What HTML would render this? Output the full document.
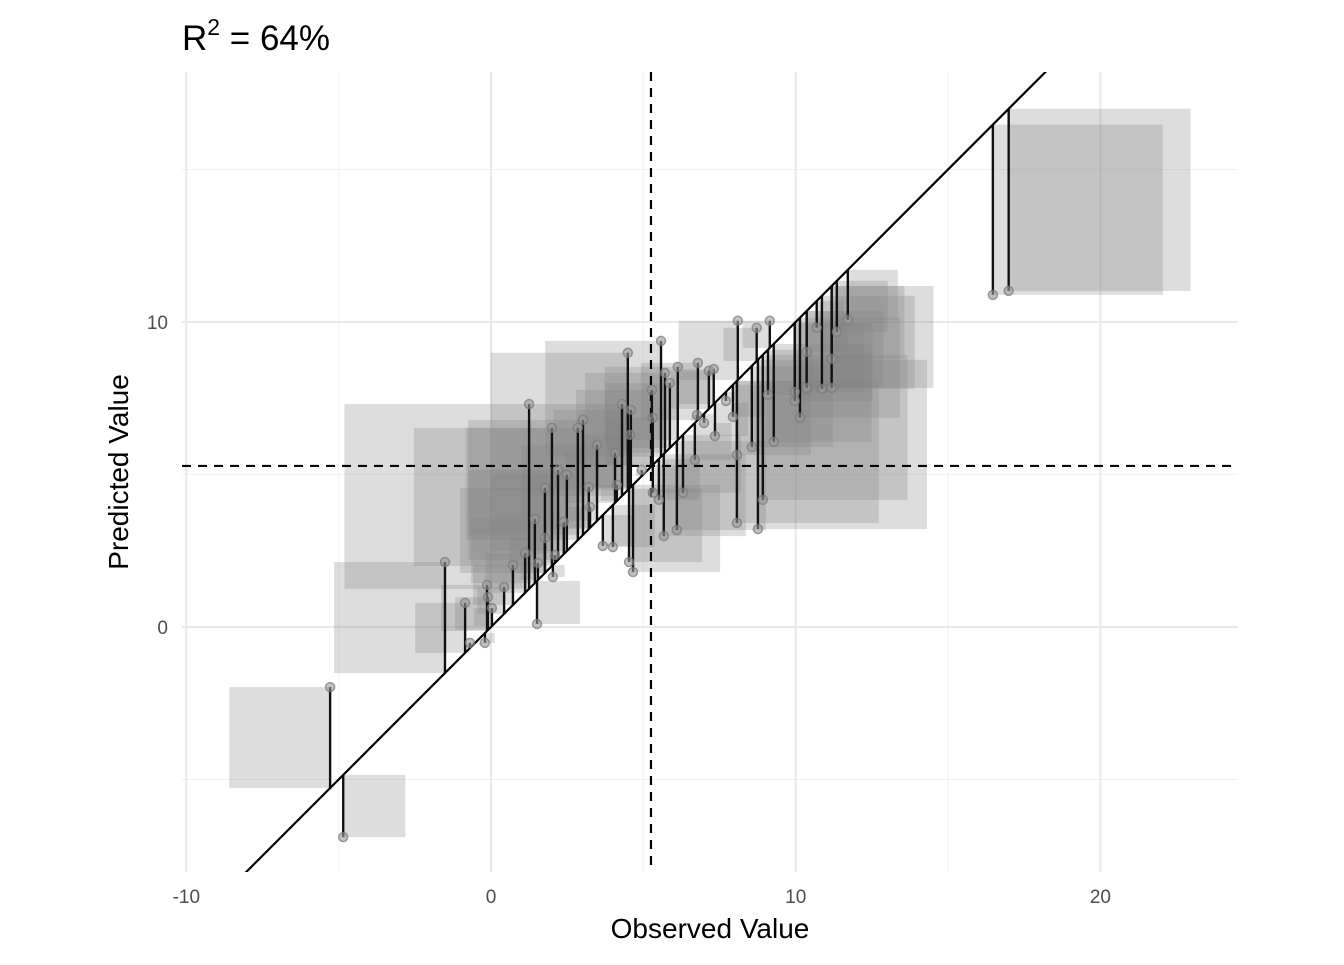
<!DOCTYPE html>
<html><head><meta charset="utf-8"><style>
body{margin:0;background:#fff;font-family:"Liberation Sans",sans-serif}
svg text{font-family:"Liberation Sans",sans-serif}
</style></head><body>
<svg id="c" width="1344" height="960" xmlns="http://www.w3.org/2000/svg"></svg>
<script>
const observed=[-5.28,-4.85,-1.51,-0.85,-0.69,-0.20,-0.13,-0.10,0.03,0.43,0.72,1.12,1.25,1.44,1.51,1.54,1.77,1.77,2.00,2.03,2.10,2.20,2.49,2.39,2.85,3.02,3.21,3.25,3.48,3.67,4.00,4.07,4.13,4.30,4.49,4.59,4.53,4.66,4.56,4.95,5.28,5.31,5.31,5.58,5.71,5.87,5.51,5.67,6.10,6.13,6.30,6.79,7.15,7.31,6.76,6.99,7.35,7.71,7.94,8.10,8.07,8.07,8.72,8.56,8.76,8.92,9.15,9.09,9.28,9.97,9.97,10.14,10.36,10.36,10.69,10.86,11.18,11.18,11.35,11.71,16.47,16.99,6.69];
const predicted=[-1.97,-6.89,2.13,0.79,-0.52,-0.52,1.38,0.98,0.62,1.31,2.03,2.43,7.31,3.54,0.10,2.10,4.56,2.92,6.53,1.64,2.36,5.15,4.99,3.44,6.53,6.79,4.59,3.94,5.97,2.66,2.62,5.71,4.66,7.31,8.99,7.12,2.13,1.80,6.30,5.15,7.77,6.86,4.40,9.38,8.33,8.00,4.17,2.98,3.18,8.53,4.40,8.66,8.40,8.46,6.95,6.69,6.26,7.41,6.89,10.04,5.64,3.41,9.81,5.90,3.21,4.17,10.04,7.61,6.07,7.71,7.41,6.86,9.02,7.84,9.81,7.81,8.79,7.84,9.68,10.07,10.89,11.02,5.48];
const meanLines=[5.25,5.28];
const xTicks=[-10,0,10,20];
const yTicks=[0,10];
const xMinor=[-5,5,15];
const yMinor=[-5,5,15];
const r2Label="64%";

const NS="http://www.w3.org/2000/svg";
const svg=document.getElementById('c');
const L=182,R=1238,T=72,B=872;
const xs=v=>491+(v)*30.47;
const ys=v=>627-(v)*30.5;
function mk(tag,attrs,parent){const e=document.createElementNS(NS,tag);for(const k in attrs)e.setAttribute(k,attrs[k]);(parent||svg).appendChild(e);return e;}
const defs=mk('defs',{});
const cp=mk('clipPath',{id:'clip'},defs);mk('rect',{x:L,y:T,width:R-L,height:B-T},cp);

const grid=mk('g',{});


xMinor.forEach(v=>{const l=mk('line',{x1:xs(v),x2:xs(v),y1:T,y2:B,stroke:'#f1f1f1','stroke-width':1},grid);});
yMinor.forEach(v=>{const l=mk('line',{x1:L,x2:R,y1:ys(v),y2:ys(v),stroke:'#f1f1f1','stroke-width':1},grid);});
xTicks.forEach(v=>{const l=mk('line',{x1:xs(v),x2:xs(v),y1:T,y2:B,stroke:'#e8e8e8','stroke-width':2},grid);});
yTicks.forEach(v=>{const l=mk('line',{x1:L,x2:R,y1:ys(v),y2:ys(v),stroke:'#e8e8e8','stroke-width':2},grid);});

const plot=mk('g',{'clip-path':'url(#clip)'});


observed.forEach((o,i)=>{
  const p=predicted[i];const x2=2*o-p;
  const r=mk('rect',{x:Math.min(xs(o),xs(x2)),y:Math.min(ys(p),ys(o)),width:Math.abs(xs(o)-xs(x2)),height:Math.abs(ys(p)-ys(o)),fill:'#808080','fill-opacity':0.27},plot);
  
  
});
const ml1=mk('line',{x1:xs(meanLines[0]),x2:xs(meanLines[0]),y1:T,y2:B,stroke:'#000','stroke-width':2.2,'stroke-dasharray':'9,7'},plot);


const ml2=mk('line',{x1:L,x2:R,y1:ys(meanLines[1]),y2:ys(meanLines[1]),stroke:'#000','stroke-width':2.2,'stroke-dasharray':'9,7'},plot);


observed.forEach((o,i)=>{
  const s=mk('line',{x1:xs(o),x2:xs(o),y1:ys(predicted[i]),y2:ys(o),stroke:'#111','stroke-width':2.4},plot);
  
  
});
const d=mk('line',{x1:xs(-12),y1:ys(-12),x2:xs(30),y2:ys(30),stroke:'#000','stroke-width':2.2},plot);


observed.forEach((o,i)=>{
  const c=mk('circle',{cx:xs(o),cy:ys(predicted[i]),r:4.5,fill:'#999','fill-opacity':0.6,stroke:'#777','stroke-opacity':0.7,'stroke-width':1.5},plot);
  
  
});

xTicks.forEach(v=>{const t=mk('text',{x:xs(v),y:903,'text-anchor':'middle','font-size':19,fill:'#4d4d4d'});t.textContent=v;});
yTicks.forEach(v=>{const t=mk('text',{x:168,y:ys(v)+7,'text-anchor':'end','font-size':19,fill:'#4d4d4d'});t.textContent=v;});
const xt=mk('text',{x:710,y:938,'text-anchor':'middle','font-size':28,fill:'#000'});xt.textContent='Observed Value';


const yt=mk('text',{x:0,y:0,'text-anchor':'middle','font-size':28,fill:'#000',transform:'translate(128,472) rotate(-90)'});yt.textContent='Predicted Value';


const tt=mk('text',{x:182,y:50,'font-size':35,fill:'#000'});


const t1=mk('tspan',{},tt);t1.textContent='R';
const t2=mk('tspan',{dy:-15,'font-size':23},tt);t2.textContent='2';
const t3=mk('tspan',{dy:15},tt);t3.textContent=' = '+r2Label;
</script>
</body></html>
